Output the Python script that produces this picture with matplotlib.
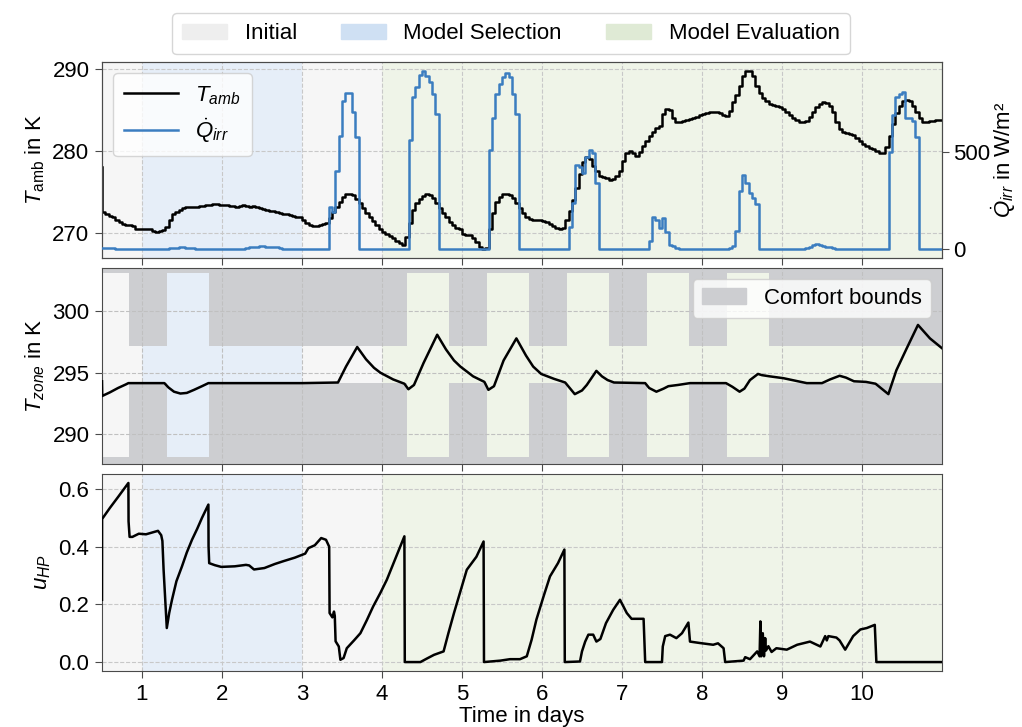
import numpy as np
import matplotlib
matplotlib.use("Agg")
import matplotlib.pyplot as plt
from matplotlib.patches import Patch

plt.rcParams['font.family'] = ['Liberation Sans', 'DejaVu Sans']
plt.rcParams['mathtext.fontset'] = 'custom'
plt.rcParams['mathtext.rm'] = 'Liberation Sans'
plt.rcParams['mathtext.it'] = 'Liberation Sans:italic'
plt.rcParams['font.size'] = 16

# hourly ambient temperature in K, starting at hour 12 (t = 0.5 d)
t_amb = [
    278.0, 272.6, 272.3, 272.1, 271.9, 271.6, 271.3, 271.1, 271.0, 271.0, 270.8, 270.5,
    270.4, 270.4, 270.5, 270.4, 270.2, 270.1, 270.2, 270.3, 270.7, 271.5, 272.3, 272.6,
    272.8, 273.0, 273.1, 273.1, 273.1, 273.2, 273.3, 273.3, 273.4, 273.4, 273.5, 273.5,
    273.4, 273.4, 273.4, 273.3, 273.3, 273.2, 273.3, 273.4, 273.3, 273.2, 273.3, 273.2,
    273.0, 272.9, 272.8, 272.7, 272.7, 272.6, 272.4, 272.3, 272.3, 272.2, 272.1, 271.9,
    271.9, 271.6, 271.2, 270.9, 270.8, 270.8, 270.9, 271.1, 271.2, 271.8, 272.5, 273.2,
    273.8, 274.4, 274.8, 274.8, 274.6, 274.1, 273.6, 273.0, 272.4, 271.9, 271.4, 270.9,
    270.5, 270.1, 269.8, 269.6, 269.3, 269.0, 268.8, 268.5, 269.5, 271.2, 272.8, 273.6,
    274.1, 274.5, 274.7, 274.6, 274.2, 273.6, 273.0, 272.4, 271.9, 271.3, 270.9, 270.6,
    270.4, 269.9, 269.7, 269.7, 269.4, 268.9, 268.3, 268.0, 268.1, 270.5, 272.4, 273.8,
    274.4, 274.8, 274.8, 274.6, 274.3, 273.7, 273.0, 272.4, 271.9, 271.7, 271.5, 271.5,
    271.5, 271.4, 271.3, 271.1, 270.8, 270.6, 270.5, 270.6, 271.5, 272.7, 274.0, 275.5,
    277.2, 278.7, 279.3, 279.0, 278.2, 277.5, 277.0, 276.8, 276.7, 276.5, 276.6, 276.9,
    277.5, 278.8, 279.7, 280.0, 279.8, 279.4, 279.9, 280.6, 281.2, 281.8, 282.3, 282.8,
    283.1, 284.5, 285.2, 285.0, 284.0, 283.6, 283.6, 283.7, 283.8, 283.9, 284.0, 284.2,
    284.4, 284.5, 284.7, 284.8, 284.8, 284.8, 284.7, 284.4, 284.3, 284.9, 286.0, 286.8,
    288.0, 289.2, 289.8, 289.8, 289.2, 288.0, 287.1, 286.5, 286.1, 285.8, 285.6, 285.5,
    285.4, 285.1, 284.8, 284.4, 284.1, 283.8, 283.5, 283.5, 283.7, 284.2, 284.8, 285.4,
    285.8, 286.0, 285.9, 285.5, 284.8, 283.6, 282.7, 282.3, 282.2, 282.1, 281.9, 281.6,
    281.2, 280.9, 280.6, 280.4, 280.2, 280.0, 279.8, 279.8, 280.5, 281.8, 283.3, 284.7,
    285.5, 286.1, 286.3, 286.1, 285.5, 284.8, 284.0, 283.6, 283.6, 283.7, 283.7, 283.8,
    283.8,
]

# hourly irradiation in W/m2, starting at hour 12
q_irr = [
    5, 5, 5, 5, 0, 0, 0, 0, 0, 0, 0, 0,
    0, 0, 0, 0, 0, 0, 0, 0, 5, 8, 8, 10, 10, 8, 8, 5, 0, 0, 0, 0, 0, 0, 0, 0,
    0, 0, 0, 0, 0, 0, 0, 5, 10, 12, 12, 14, 14, 12, 12, 10, 10, 5, 0, 0, 0, 0, 0, 0,
    0, 0, 0, 0, 0, 0, 0, 0, 218, 190, 400, 580, 760, 800, 800, 705, 577, 0, 0, 0, 0, 0, 0, 0,
    0, 0, 0, 0, 0, 0, 0, 0, 560, 781, 833, 892, 915, 888, 858, 799, 696, 0, 0, 0, 0, 0, 0, 0,
    0, 0, 0, 0, 0, 0, 0, 0, 508, 671, 799, 850, 884, 905, 884, 799, 696, 0, 0, 0, 0, 0, 0, 0,
    0, 0, 0, 0, 0, 0, 0, 0, 116, 235, 432, 422, 389, 474, 508, 491, 338, 0, 0, 0, 0, 0, 0, 0,
    0, 0, 0, 0, 0, 0, 0, 0, 40, 167, 150, 110, 160, 90, 22, 14, 5, 0, 0, 0, 0, 0, 0, 0,
    0, 0, 0, 0, 0, 0, 0, 0, 5, 15, 95, 300, 380, 340, 290, 260, 230, 0, 0, 0, 0, 0, 0, 0,
    0, 0, 0, 0, 0, 0, 0, 5, 10, 20, 25, 20, 15, 12, 10, 5, 0, 0, 0, 0, 0, 0, 0, 0,
    0, 0, 0, 0, 0, 0, 0, 0, 500, 688, 781, 799, 807, 671, 671, 660, 577, 0, 0, 0, 0, 0, 0, 0,
    0,
]

# zone temperature (K)
zone_time = [0.5, 0.503, 0.6, 0.7, 0.8, 0.83, 1.28, 1.33, 1.4, 1.48, 1.56, 1.65, 1.75, 1.83,
             3.0, 3.45, 3.55, 3.69, 3.8, 3.9, 3.98, 4.14, 4.28, 4.33, 4.4, 4.52, 4.69, 4.8,
             4.9, 4.98, 5.14, 5.28, 5.33, 5.4, 5.52, 5.68, 5.8, 5.89, 5.99, 6.15, 6.29, 6.41,
             6.5, 6.56, 6.68, 6.75, 6.82, 6.9, 7.29, 7.34, 7.43, 7.52, 7.58, 7.7, 7.85, 8.3,
             8.38, 8.47, 8.53, 8.6, 8.7, 8.75, 8.85, 9.02, 9.2, 9.31, 9.5, 9.6, 9.72, 9.8,
             9.9, 10.05, 10.17, 10.33, 10.43, 10.56, 10.7, 10.85, 11.0]
zone_temp = [294.3, 293.1, 293.4, 293.75, 294.05, 294.15, 294.15, 293.8, 293.45, 293.3, 293.35,
             293.6, 293.9, 294.15, 294.15, 294.2, 295.5, 297.1, 296.1, 295.4, 295.0, 294.45,
             294.1, 293.65, 294.0, 295.8, 298.1, 296.9, 296.0, 295.5, 294.7, 294.25, 293.6,
             293.9, 296.0, 297.8, 296.4, 295.5, 294.9, 294.5, 294.2, 293.25, 293.55, 294.0,
             295.15, 294.7, 294.4, 294.2, 294.15, 293.75, 293.45, 293.7, 293.9, 294.0, 294.15,
             294.15, 293.85, 293.45, 293.7, 294.4, 294.9, 294.8, 294.7, 294.55, 294.3, 294.15,
             294.15, 294.45, 294.75, 294.6, 294.3, 294.25, 294.1, 293.25, 295.2, 297.0, 298.9,
             297.8, 297.0]

# comfort bounds (K), piecewise constant from each start time
bound_time = [0.5, 0.8333, 1.3125, 1.8333, 4.3125, 4.8333, 5.3125, 5.8333, 6.3125,
              6.8333, 7.3125, 7.8333, 8.3125, 8.8333, 11.0]
bound_low = [288.15, 294.15, 288.15, 294.15, 288.15, 294.15, 288.15, 294.15, 288.15,
             294.15, 288.15, 294.15, 288.15, 294.15, 294.15]
bound_up = [303.15, 297.15, 303.15, 297.15, 303.15, 297.15, 303.15, 297.15, 303.15,
            297.15, 303.15, 297.15, 303.15, 297.15, 297.15]

# heat pump control signal
u_time = [0.5, 0.501, 0.6, 0.7, 0.83, 0.832, 0.845, 0.88, 0.96, 1.05, 1.1, 1.16, 1.2, 1.24,
          1.255, 1.27, 1.31, 1.34, 1.375, 1.43, 1.5, 1.56, 1.625, 1.69, 1.75, 1.83, 1.832,
          1.84, 1.91, 1.99, 2.16, 2.3, 2.34, 2.4, 2.53, 2.66, 2.77, 2.91, 3.04, 3.08, 3.16,
          3.24, 3.3, 3.34, 3.345, 3.38, 3.4, 3.41, 3.42, 3.46, 3.48, 3.52, 3.56, 3.65, 3.73,
          3.81, 3.89, 3.98, 4.06, 4.17, 4.28, 4.285, 4.48, 4.56, 4.65, 4.77, 4.83, 4.9, 4.98,
          5.06, 5.18, 5.27, 5.275, 5.48, 5.6, 5.725, 5.81, 5.87, 5.93, 6.02, 6.1, 6.2, 6.28,
          6.285, 6.475, 6.5, 6.54, 6.58, 6.64, 6.68, 6.73, 6.8, 6.89, 6.975, 7.06, 7.12, 7.27,
          7.29, 7.5, 7.51, 7.54, 7.6, 7.68, 7.75, 7.83, 7.85, 7.975, 8.14, 8.2, 8.27, 8.29,
          8.52, 8.54, 8.6, 8.69, 8.72, 8.73, 8.74, 8.76, 8.775, 8.79, 8.8, 8.83, 8.87, 8.93,
          9.06, 9.19, 9.35, 9.48, 9.54, 9.56, 9.58, 9.68, 9.72, 9.79, 9.89, 9.98, 10.06,
          10.16, 10.18, 11.0]
u_hp = [0.216, 0.496, 0.535, 0.572, 0.621, 0.488, 0.434, 0.434, 0.445, 0.443, 0.447, 0.452,
        0.455, 0.44, 0.42, 0.32, 0.118, 0.17, 0.216, 0.28, 0.332, 0.38, 0.424, 0.462, 0.5,
        0.546, 0.40, 0.343, 0.336, 0.33, 0.332, 0.337, 0.335, 0.321, 0.326, 0.34, 0.35,
        0.362, 0.376, 0.395, 0.405, 0.43, 0.424, 0.40, 0.17, 0.155, 0.175, 0.16, 0.072,
        0.054, 0.008, 0.014, 0.048, 0.075, 0.1, 0.145, 0.193, 0.24, 0.285, 0.36, 0.436, 0.0,
        0.0, 0.012, 0.025, 0.037, 0.1, 0.17, 0.245, 0.32, 0.365, 0.418, 0.0, 0.005, 0.01,
        0.01, 0.02, 0.077, 0.147, 0.228, 0.297, 0.343, 0.39, 0.0, 0.002, 0.037, 0.071, 0.095,
        0.095, 0.071, 0.08, 0.135, 0.181, 0.216, 0.17, 0.15, 0.15, 0.0, 0.0, 0.054, 0.09,
        0.095, 0.083, 0.1, 0.137, 0.071, 0.066, 0.06, 0.065, 0.048, 0.0, 0.005, 0.017, 0.01,
        0.037, 0.02, 0.141, 0.02, 0.1, 0.02, 0.083, 0.04, 0.055, 0.035, 0.048, 0.043, 0.06,
        0.071, 0.054, 0.09, 0.075, 0.09, 0.085, 0.075, 0.043, 0.09, 0.113, 0.118, 0.129,
        0.0, 0.0]

# phases of the experiment
phase_start = [0.5, 1.0, 3.0, 4.0]
phase_end = [1.0, 3.0, 4.0, 11.0]
phase_name = ['Initial', 'Model Selection', 'Initial', 'Model Evaluation']
phase_col = {'Initial': '#f6f6f6', 'Model Selection': '#e6eef8', 'Model Evaluation': '#eff4e8'}
legend_col = {'Initial': '#eeeeee', 'Model Selection': '#cfe0f3', 'Model Evaluation': '#dfead5'}

hours = (12 + np.arange(len(t_amb))) / 24
hours_q = (12 + np.arange(len(q_irr))) / 24

blue = '#3b7dc0'
gray = '#cdced1'
spine_col = '#4a4a4a'
fs = 16

fig = plt.figure(figsize=(10.22, 7.27), dpi=100)
ax1 = fig.add_axes([0.0998, 0.6451, 0.8219, 0.2696])
ax2 = fig.add_axes([0.0998, 0.3618, 0.8219, 0.2696], sharex=ax1)
ax3 = fig.add_axes([0.0998, 0.0770, 0.8219, 0.2710], sharex=ax1)

for ax in [ax1, ax2, ax3]:
    for s, e, n in zip(phase_start, phase_end, phase_name):
        ax.axvspan(s, e, color=phase_col[n], lw=0, zorder=0)
    ax.grid(True, ls='--', color='#c8c8c8', lw=0.8, zorder=1)
    ax.set_axisbelow(True)
    for sp in ax.spines.values():
        sp.set_color(spine_col)
    ax.tick_params(colors='black', length=5, color=spine_col, labelsize=fs, pad=4)

# top: ambient temperature and irradiation
l1, = ax1.plot(hours, t_amb, color='black', lw=1.8, drawstyle='steps-pre', zorder=3)
ax1.set_ylabel(r'$T_{\mathrm{amb}}$ in K', fontsize=fs)
ax1.set_yticks([270, 280, 290])
ax1.tick_params(labelbottom=False)
axq = ax1.twinx()
l2, = axq.plot(hours_q, q_irr, color=blue, lw=1.8, drawstyle='steps-post', zorder=3)
axq.set_ylabel(r'$\dot{Q}_{irr}$ in W/m²', fontsize=fs, labelpad=0)
axq.set_yticks([0, 500])
axq.tick_params(length=5, color=spine_col, labelsize=fs, pad=3)
for sp in axq.spines.values():
    sp.set_color(spine_col)
axq.legend([l1, l2], [r'$T_{amb}$', r'$\dot{Q}_{irr}$'], loc='upper left', fontsize=fs,
           handlelength=2.4, borderpad=0.5, labelspacing=0.45, framealpha=0.8)

# middle: zone temperature and comfort bounds
ax2.fill_between(bound_time, bound_up, 310, step='post', color=gray, lw=0, zorder=1.5)
ax2.fill_between(bound_time, 280, bound_low, step='post', color=gray, lw=0, zorder=1.5)
ax2.grid(True, ls='--', color='#c0c0c0', lw=0.8, zorder=2)
ax2.set_axisbelow(False)
ax2.plot(zone_time, zone_temp, color='black', lw=1.8, zorder=3)
ax2.set_ylim(287.55, 303.55)
ax2.set_yticks([290, 295, 300])
ax2.set_ylabel(r'$T_{zone}$ in K', fontsize=fs)
ax2.tick_params(labelbottom=False)
ax2.legend([Patch(color=gray)], ['Comfort bounds'], loc='upper right', fontsize=fs,
           handlelength=2.0, framealpha=0.8)

# bottom: heat pump signal
ax3.plot(u_time, u_hp, color='black', lw=1.8, zorder=3)
ax3.set_yticks([0.0, 0.2, 0.4, 0.6])
ax3.set_ylabel(r'$u_{HP}$', fontsize=fs)
ax3.set_xlabel('Time in days', fontsize=fs, labelpad=1)
ax3.set_xlim(0.5, 11.0)
ax3.set_xticks(range(1, 11))

handles = [Patch(color=legend_col[n]) for n in ['Initial', 'Model Selection', 'Model Evaluation']]
fig.legend(handles, ['Initial', 'Model Selection', 'Model Evaluation'], loc='upper center',
           bbox_to_anchor=(0.5, 0.997), ncol=3, fontsize=fs, handlelength=2.0,
           columnspacing=2.0, borderpad=0.45)

fig.savefig('out.png', dpi=100)
